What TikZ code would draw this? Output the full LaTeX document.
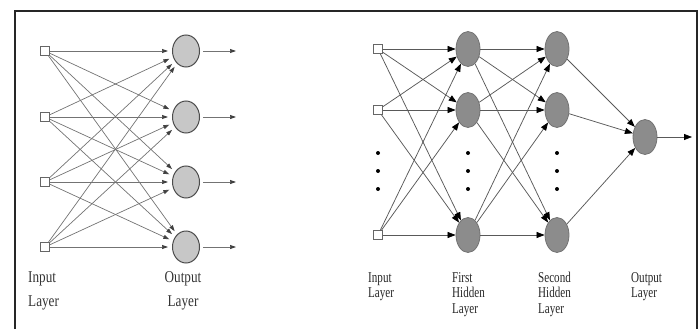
\documentclass[tikz,border=0pt]{standalone}
\usepackage{fontspec}
\setmainfont{Liberation Serif}
\newfontfamily\lblfont[FakeStretch=0.8]{Liberation Serif}
\newfontfamily\rlblfont[FakeStretch=0.74]{Liberation Serif}
\usetikzlibrary{arrows.meta,shapes.geometric}
\begin{document}
\begin{tikzpicture}[x=1pt,y=-1pt,
  inbox/.style={draw=black!60, fill=white, minimum size=9pt, inner sep=0, line width=0.8pt},
  lneuron/.style={ellipse, draw=black!70, fill=black!22, minimum width=27pt, minimum height=32pt, inner sep=0, line width=1pt},
  rneuron/.style={ellipse, draw=black!55, fill=black!45, minimum width=24pt, minimum height=35pt, inner sep=0, line width=0.8pt},
  ledge/.style={draw=black!55, line width=0.7pt, -{Triangle[length=6pt,width=4pt,black!75]}, shorten >=4pt},
  redge/.style={draw=black!65, line width=0.75pt, -{Triangle[length=8pt,width=6pt,black]}},
  vdot/.style={circle, fill=black, minimum size=4pt, inner sep=0},
  llabel/.style={font=\lblfont\fontsize{16.5}{20}\selectfont, inner sep=0, text=black!80, anchor=base west},
  clabel/.style={font=\lblfont\fontsize{16.5}{20}\selectfont, inner sep=0, text=black!80, anchor=base},
  rlabel/.style={font=\rlblfont\fontsize{15}{16}\selectfont, inner sep=0, text=black!85, anchor=base west},
  frame/.style={line width=2pt, draw=black!85}]
\useasboundingbox (0,0) rectangle (700,329);
\draw[frame] (15,329) -- (15,11) -- (697,11) -- (697,329);
% ---- left network
\foreach \k/\y in {1/51,2/117,3/182,4/247}{
  \node[inbox] (li\k) at (45,\y) {};
  \node[lneuron] (lo\k) at (186,\y) {};
  \coordinate (lz\k) at (236,\y);
}
\foreach \i in {1,...,4}{\foreach \j in {1,...,4}{\draw[ledge] (li\i) -- (lo\j);}}
\foreach \j in {1,...,4}{\draw[ledge, shorten >=0pt, shorten <=3pt] (lo\j) -- (lz\j);}
\node[llabel] (lin1) at (28,282) {Input};
\node[llabel] (lin2) at (28,306) {Layer};
\node[clabel] (lout1) at (183,282) {Output};
\node[clabel] (lout2) at (183,306) {Layer};
% ---- right network
\foreach \k/\y in {1/49,2/110,3/235}{
  \node[inbox] (ri\k) at (378,\y) {};
  \node[rneuron] (ra\k) at (468,\y) {};
  \node[rneuron] (rb\k) at (557,\y) {};
}
\node[rneuron] (ro) at (645,137) {};
\coordinate (rz) at (692,137);
\foreach \x/\n in {378/a,468/b,557/c}{
  \node[vdot] (d\n1) at (\x,153) {};
  \node[vdot] (d\n2) at (\x,171) {};
  \node[vdot] (d\n3) at (\x,189) {};
}
\foreach \i in {1,2,3}{\foreach \j in {1,2,3}{
  \draw[redge] (ri\i) -- (ra\j);
  \draw[redge] (ra\i) -- (rb\j);}}
\foreach \i in {1,2,3}{\draw[redge] (rb\i) -- (ro);}
\draw[redge] (ro) -- (rz);
\node[rlabel] (rin1) at (368,282) {Input};
\node[rlabel] (rin2) at (368,297.5) {Layer};
\node[rlabel] (rf1) at (452,282) {First};
\node[rlabel] (rf2) at (452,297.5) {Hidden};
\node[rlabel] (rf3) at (452,313) {Layer};
\node[rlabel] (rs1) at (538,282) {Second};
\node[rlabel] (rs2) at (538,297.5) {Hidden};
\node[rlabel] (rs3) at (538,313) {Layer};
\node[rlabel] (ro1) at (631,282) {Output};
\node[rlabel] (ro2) at (631,297.5) {Layer};
\end{tikzpicture}
\end{document}
